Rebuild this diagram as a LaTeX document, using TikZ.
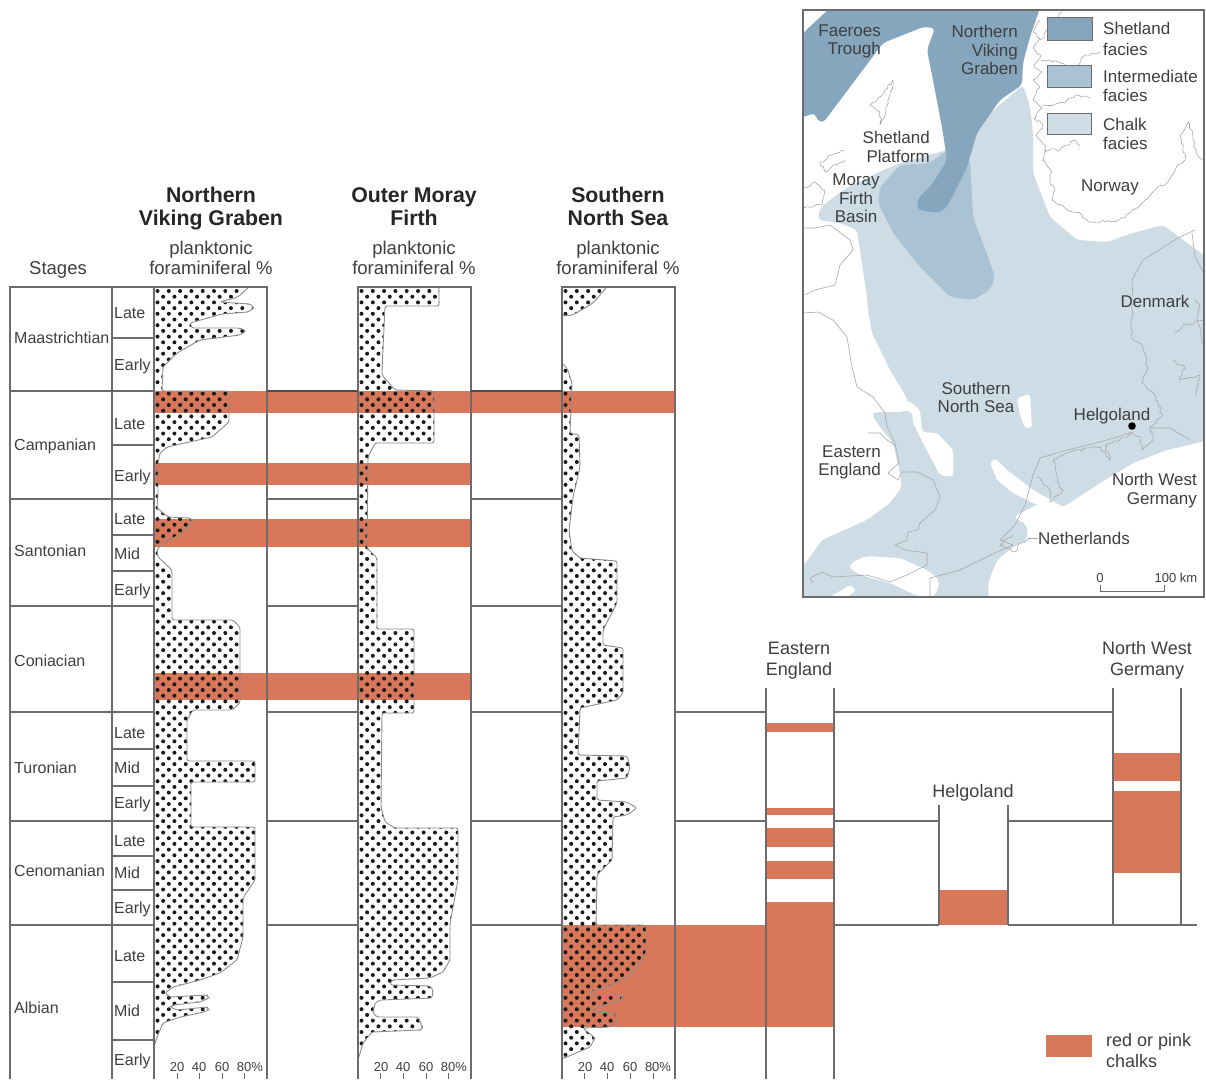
\documentclass[tikz,border=0pt]{standalone}
\usepackage{fontspec}
\usetikzlibrary{decorations.pathmorphing}
\setmainfont{Liberation Sans}
\definecolor{ink}{HTML}{3F3F3F}
\definecolor{rule}{HTML}{6C6C6C}
\definecolor{redchalk}{HTML}{D9775B}
\definecolor{chalkf}{HTML}{CEDCE6}
\definecolor{interf}{HTML}{A9C2D4}
\definecolor{shetf}{HTML}{86A6BE}
\definecolor{coast}{HTML}{A8A8A8}
\newcommand{\fs}[1]{\fontsize{#1}{#1}\selectfont}
\tikzset{
 lab/.style={inner sep=0pt,text=ink,font=\fs{16}\strut,anchor=base west},
 stagelab/.style={lab,font=\fs{16}},
 subl/.style={lab,font=\fs{16}},
 axl/.style={inner sep=0pt,text=ink,font=\fs{13},anchor=base},
 title/.style={inner sep=0pt,text=black!85,font=\fs{21.3}\bfseries,align=center,anchor=base},
 plk/.style={inner sep=0pt,text=ink,font=\fs{18.5},align=center,anchor=base},
 maplab/.style={inner sep=0pt,text=ink,font=\fs{17},align=center,anchor=base},
 mapr/.style={maplab,align=right,anchor=base east},
 sectlab/.style={maplab,font=\fs{18}},
 rl/.style={draw=rule,line width=1.4pt},
 band/.style={fill=redchalk},
 curve/.style={draw=black!45,line width=.9pt,rounded corners=2.2pt},
 cst/.style={draw=coast,line width=.6pt,line join=round},
 jag/.style={cst,decorate,decoration={random steps,segment length=3.5pt,amplitude=1.6pt}},
 leg/.style={draw=rule,line width=.9pt},
}
\def\polyA{(154,287) -- (249,287) -- (238,297) -- (220,302) -- (250,304) -- (254,308) -- (248,312) -- (222,314) -- (190,323) -- (192,328) -- (240,328) -- (246,331) -- (240,335) -- (200,340) -- (177,353) -- (163,367) -- (162,391) -- (229,391) -- (229,422) -- (212,437) -- (167,447) -- (160,453) -- (158,463) -- (158,495) -- (157,508) -- (168,517) -- (190,518) -- (193,522) -- (183,533) -- (163,543) -- (157,550) -- (158,557) -- (172,570) -- (172,620) -- (233,620) -- (240,627) -- (240,703) -- (232,710) -- (193,710) -- (187,720) -- (187,761) -- (255,761) -- (255,782) -- (191,782) -- (191,827) -- (255,827) -- (255,880) -- (243,898) -- (243,937) -- (237,960) -- (220,973) -- (200,980) -- (173,987) -- (165,993) -- (170,997) -- (207,995) -- (209,998) -- (200,1002) -- (173,1005) -- (170,1007) -- (177,1010) -- (207,1007) -- (209,1010) -- (200,1013) -- (180,1017) -- (163,1023) -- (157,1037) -- (154,1047) -- cycle}
\def\polyB{(358,287) -- (439,287) -- (439,306) -- (385,306) -- (382,370) -- (382,375) -- (395,390) -- (434,391) -- (434,443) -- (375,443) -- (368,457) -- (367,548) -- (377,558) -- (377,629) -- (414,629) -- (414,713) -- (382,713) -- (381,807) -- (385,822) -- (395,828) -- (458,828) -- (458,880) -- (450,923) -- (450,960) -- (443,972) -- (430,978) -- (392,980) -- (390,985) -- (430,986) -- (433,990) -- (432,998) -- (380,1000) -- (375,1003) -- (373,1013) -- (377,1017) -- (418,1017) -- (423,1028) -- (420,1030) -- (372,1032) -- (363,1043) -- (358,1060) -- cycle}
\def\polyC{(562,363) -- (567,368) -- (572,383) -- (570,433) -- (579,435) -- (580,467) -- (573,497) -- (569,530) -- (572,551) -- (580,558) -- (617,561) -- (617,603) -- (603,630) -- (603,645) -- (623,648) -- (623,693) -- (617,700) -- (580,708) -- (578,755) -- (627,756) -- (630,767) -- (627,778) -- (597,781) -- (597,800) -- (627,802) -- (637,808) -- (627,815) -- (613,817) -- (612,860) -- (597,875) -- (596,925) -- (646,925) -- (646,953) -- (633,973) -- (607,987) -- (590,992) -- (593,995) -- (622,996) -- (622,1000) -- (597,1007) -- (593,1012) -- (615,1013) -- (617,1023) -- (610,1027) -- (583,1028) -- (595,1038) -- (590,1047) -- (562,1059) -- cycle}
\def\polyD{(562,287) -- (607,287) -- (593,303) -- (573,315) -- (562,316) -- cycle}
\newcommand{\dotfield}[1]{%
 \foreach \rr in {0,...,68}{%
  \pgfmathsetmacro{\yy}{291+11.4*\rr}%
  \foreach \cc in {0,...,9}{%
   \fill[black!90] ({#1+11.3*\cc},\yy) circle (2);
   \fill[black!90] ({#1+5.65+11.3*\cc},{\yy+5.7}) circle (2);
  }%
 }%
}
\begin{document}
\begin{tikzpicture}[x=1pt,y=-1pt]
\useasboundingbox (0,0) rectangle (1206,1079);
\fill[white] (0,0) rectangle (1206,1079);

% ---------- map ----------
\begin{scope}
\clip (803,10) rectangle (1204,597);
\fill[chalkf,rounded corners=4pt] (1023,85) -- (1030,107) -- (1033,133) -- (1033,173) -- (1050,217) -- (1077,240) -- (1107,242) -- (1133,233) -- (1163,225) -- (1210,260) -- (1210,440) -- (1167,450) -- (1133,463) -- (1100,483) -- (1063,507) -- (1040,503) -- (1013,517) -- (1027,525) -- (1027,540) -- (1013,547) -- (997,560) -- (988,583) -- (989,600) -- (800,600) -- (800,570) -- (810,557) -- (822,540) -- (867,520) -- (890,503) -- (902,487) -- (900,473) -- (893,443) -- (880,427) -- (872,415) -- (875,412) -- (905,412) -- (908,400) -- (890,370) -- (872,333) -- (868,310) -- (867,297) -- (857,230) -- (840,223) -- (818,220) -- (820,208) -- (843,190) -- (877,173) -- (900,163) -- (947,150) -- cycle;
\fill[white,rounded corners=3pt] (908,400) -- (920,410) -- (922,432) -- (937,433) -- (953,450) -- (953,477) -- (940,475) -- (923,443) -- (913,423) -- (912,412) -- (900,410) -- cycle;
\fill[white,rounded corners=3pt] (1017,398) -- (1030,394) -- (1032,428) -- (1025,428) -- (1020,415) -- cycle;
\fill[white,rounded corners=3pt] (990,463) -- (995,458) -- (1007,470) -- (1033,490) -- (1063,507) -- (1037,505) -- (1013,493) -- (997,480) -- cycle;
\fill[white,rounded corners=5pt] (850,563) -- (867,556) -- (900,558) -- (927,570) -- (940,580) -- (935,597) -- (920,597) -- (890,583) -- (867,577) -- (850,570) -- cycle;
\fill[white,rounded corners=2pt] (830,597) -- (850,585) -- (856,590) -- (846,598) -- cycle;
\fill[interf,rounded corners=5pt] (900,165) -- (880,187) -- (878,203) -- (893,233) -- (920,267) -- (950,297) -- (973,300) -- (990,290) -- (995,277) -- (988,257) -- (973,217) -- (970,160) -- (947,150) -- (930,163) -- cycle;
\fill[shetf,rounded corners=4pt] (803,33) -- (830,8) -- (1040,8) -- (1030,37) -- (1023,63) -- (1022,85) -- (1000,100) -- (977,133) -- (967,167) -- (947,207) -- (938,213) -- (918,210) -- (917,200) -- (933,183) -- (947,160) -- (943,133) -- (933,80) -- (927,50) -- (935,28) -- (923,27) -- (883,43) -- (850,87) -- (823,123) -- (817,120) -- (815,113) -- (800,118) -- cycle;
% coastlines
\draw[jag] (1040,20) -- (1033,32) -- (1040,38) -- (1033,48) -- (1041,55) -- (1034,65) -- (1042,72) -- (1033,80) -- (1040,87) -- (1033,100) -- (1042,108) -- (1034,118) -- (1043,125) -- (1036,135) -- (1045,148) -- (1042,160) -- (1052,172) -- (1050,180) -- (1055,190) -- (1052,200) -- (1065,208) -- (1082,215) -- (1088,222) -- (1105,222) -- (1125,218) -- (1140,205) -- (1155,190) -- (1168,182) -- (1175,170) -- (1185,160) -- (1180,135) -- (1188,122) -- (1193,140) -- (1197,155) -- (1206,160);
\draw[jag] (1041,60) -- (1060,63) -- (1075,70) -- (1085,55) -- (1100,52);
\draw[jag] (1042,105) -- (1065,103) -- (1075,95) -- (1090,98);
\draw[jag] (1044,150) -- (1060,150) -- (1075,140) -- (1080,146);
\draw[jag] (1040,40) -- (1050,28) -- (1062,12);
\draw[jag] (893,80) -- (885,90) -- (878,98) -- (870,105) -- (880,112) -- (880,125) -- (886,110) -- (890,95) -- (893,80);
\draw[jag] (845,150) -- (832,155) -- (820,162) -- (825,172) -- (833,165) -- (845,160);
\draw[jag] (803,188) -- (815,182) -- (825,190) -- (822,205) -- (803,208);
\draw[cst] (803,228) -- (815,228) -- (830,225) -- (850,240) -- (853,250) -- (840,265) -- (835,285) -- (815,290) -- (805,295);
\draw[cst] (803,313) -- (818,312) -- (833,320) -- (847,337) -- (852,367) -- (857,387) -- (873,397) -- (885,413) -- (887,427) -- (895,443) -- (899,463) -- (888,473) -- (898,480) -- (902,472) -- (917,472) -- (933,480) -- (940,497) -- (935,510) -- (920,523) -- (918,530) -- (908,532) -- (907,540) -- (895,545) -- (905,550) -- (927,553) -- (927,565) -- (907,575) -- (890,582) -- (867,575) -- (833,577) -- (822,572) -- (810,578) -- (813,583);
\draw[cst] (868,433) -- (880,433) -- (887,440) -- (895,445);
\draw[cst] (930,597) -- (930,578) -- (960,570) -- (997,552) -- (1013,545) -- (1000,540) -- (1010,530) -- (1015,525) -- (1025,505) -- (1033,475) -- (1040,458) -- (1067,450) -- (1100,442) -- (1133,432);
\draw[jag] (1013,535) -- (1000,545) -- (1015,552) -- (1018,545) -- (1030,538);
\draw[jag] (1037,477) -- (1050,490) -- (1050,502) -- (1063,490) -- (1057,482) -- (1053,460) -- (1070,452) -- (1100,447) -- (1110,460) -- (1105,445) -- (1133,434) -- (1140,437) -- (1142,450) -- (1153,440) -- (1150,427) -- (1163,415) -- (1153,393) -- (1142,383) -- (1148,367) -- (1143,347) -- (1133,340) -- (1132,320) -- (1133,300);
\draw[cst] (1133,300) -- (1132,280) -- (1143,260) -- (1178,238) -- (1195,230);
\draw[cst] (1192,233) -- (1195,257) -- (1206,277);
\draw[cst] (1150,428) -- (1170,428) -- (1190,440);
\draw[jag] (1175,333) -- (1185,325) -- (1206,320);
\draw[jag] (1173,360) -- (1185,368) -- (1180,380) -- (1200,375) -- (1195,395);
\draw[jag] (1195,300) -- (1200,305) -- (1197,320) -- (1204,345);
\end{scope}
\draw[rule,line width=1.8pt] (803,10) rectangle (1204,597);
% map legend
\draw[leg,fill=shetf] (1047,17) rectangle (1092,40);
\draw[leg,fill=interf] (1047,65) rectangle (1091,87);
\draw[leg,fill=chalkf] (1047,113) rectangle (1091,134);
\node[lab,font=\fs{17}] (lg1) at (1103,34) {Shetland};
\node[lab,font=\fs{17}] (lg1b) at (1103,55) {facies};
\node[lab,font=\fs{17}] (lg2) at (1103,82) {Intermediate};
\node[lab,font=\fs{17}] (lg2b) at (1103,101) {facies};
\node[lab,font=\fs{17}] (lg3) at (1103,130) {Chalk};
\node[lab,font=\fs{17}] (lg3b) at (1103,149) {facies};
% map labels
\node[mapr] (m1) at (881,36) {Faeroes};
\node[mapr] (m1b) at (881,54) {Trough};
\node[mapr] (m2) at (1018,37) {Northern};
\node[mapr] (m2b) at (1018,56) {Viking};
\node[mapr] (m2c) at (1018,74) {Graben};
\node[mapr] (m3) at (930,143) {Shetland};
\node[mapr] (m3b) at (930,162) {Platform};
\node[maplab] (m4) at (856,185) {Moray};
\node[maplab] (m4b) at (856,204) {Firth};
\node[maplab] (m4c) at (856,222) {Basin};
\node[maplab] (m5) at (1110,191) {Norway};
\node[maplab] (m6) at (1155,307) {Denmark};
\node[maplab] (m7) at (976,394) {Southern};
\node[maplab] (m7b) at (976,412) {North Sea};
\node[maplab] (m8) at (1112,420) {Helgoland};
\fill[black] (1132,426) circle (3.8);
\node[mapr] (m9) at (881,457) {Eastern};
\node[mapr] (m9b) at (881,475) {England};
\node[mapr] (m10) at (1197,485) {North West};
\node[mapr] (m10b) at (1197,504) {Germany};
\node[maplab] (m11) at (1084,544) {Netherlands};
\coordinate (nl) at (1028,538);
\draw[coast,line width=.8pt] (nl) -- (m11.west |- nl);
% scale
\node[axl] (s0) at (1100,582) {0};
\node[axl] (s1) at (1176,582) {100 km};
\draw[rule,line width=1pt] (1100,585) -- (1100,591) -- (1164,591) -- (1164,585);

% ---------- bands ----------
\fill[band] (154,391) rectangle (675,413);
\fill[band] (154,463) rectangle (471,485);
\fill[band] (154,519) rectangle (471,547);
\fill[band] (154,673) rectangle (471,700);
\fill[band] (562,925) rectangle (834,1027);
\fill[band] (766,723) rectangle (834,732);
\fill[band] (766,808) rectangle (834,815);
\fill[band] (766,828) rectangle (834,847);
\fill[band] (766,861) rectangle (834,879);
\fill[band] (766,902) rectangle (834,925);
\fill[band] (939,890) rectangle (1008,925);
\fill[band] (1113,753) rectangle (1181,781);
\fill[band] (1113,791) rectangle (1181,873);
\fill[band] (1046,1035) rectangle (1092,1057);

% ---------- curves with dots ----------
\begin{scope}\clip \polyA; \dotfield{157.5} \end{scope}
\begin{scope}\clip \polyB; \dotfield{361.5} \end{scope}
\begin{scope}\clip \polyC; \dotfield{565.5} \end{scope}
\begin{scope}\clip \polyD; \dotfield{565.5} \end{scope}
\draw[curve] \polyA;
\draw[curve] \polyB;
\draw[curve] \polyC;
\draw[curve] \polyD;

% ---------- table rules ----------
\draw[rl] (10,1079) -- (10,287) -- (267,287) -- (267,1079);
\draw[rl] (112,287) -- (112,1079);
\draw[rl] (154,287) -- (154,1079);
\draw[rl] (358,1079) -- (358,287) -- (471,287) -- (471,1079);
\draw[rl] (562,1079) -- (562,287) -- (675,287) -- (675,1079);
\foreach \yy in {338,445,535,571,749,786,856,890,982,1040}{\draw[rl] (112,\yy) -- (154,\yy);}
\foreach \yy in {391,499,606,712,821,925}{\draw[rl] (10,\yy) -- (154,\yy);}
\foreach \yy in {391,499,606,712,821,925}{\draw[rl] (267,\yy) -- (358,\yy); \draw[rl] (471,\yy) -- (562,\yy);}
\draw[rl,draw=black!70] (267,391) -- (358,391) (471,391) -- (562,391);
\draw[rl] (675,712) -- (766,712) (834,712) -- (1113,712);
\draw[rl] (675,821) -- (766,821) (834,821) -- (939,821) (1008,821) -- (1113,821);
\draw[rl] (834,925) -- (939,925) (1008,925) -- (1197,925);
\draw[rl] (766,688) -- (766,1079) (834,688) -- (834,1079);
\draw[rl] (939,805) -- (939,925) (1008,805) -- (1008,925);
\draw[rl] (1113,688) -- (1113,925) (1181,688) -- (1181,925);

% axis ticks
\foreach \xx in {177,199,222,244,380,403,426,448,584,607,630,653}{\draw[rule,line width=1pt] (\xx,1073) -- (\xx,1079);}
\foreach \xx/\tt [count=\i] in {177/20,199/40,222/60,250/80\%,381/20,403/40,426/60,454/80\%,585/20,607/40,630/60,658/80\%}{\node[axl] (ax\i) at (\xx,1071) {\tt};}

% ---------- headings ----------
\node[lab,font=\fs{18.5}] (stages) at (29,274.5) {Stages};
\node[title] (t1) at (211,202) {Northern};
\node[title] (t1b) at (211,225) {Viking Graben};
\node[title] (t2) at (414,202) {Outer Moray};
\node[title] (t2b) at (414,225) {Firth};
\node[title] (t3) at (618,202) {Southern};
\node[title] (t3b) at (618,225) {North Sea};
\foreach \xx/\nn in {211/a,414/b,618/c}{
 \node[plk] (p\nn) at (\xx,254) {planktonic};
 \node[plk] (q\nn) at (\xx,274) {foraminiferal \%};
}
% stages
\foreach \yy/\tt [count=\i] in {338/Maastrichtian,445/Campanian,551/Santonian,661/Coniacian,768/Turonian,871/Cenomanian,1008/Albian}{\node[stagelab] (st\i) at (14,\yy+5.5) {\tt};}
\foreach \yy/\tt [count=\i] in {313/Late,365/Early,424/Late,476/Early,519/Late,554/Mid,590/Early,733/Late,768/Mid,803/Early,841/Late,873/Mid,908/Early,956/Late,1011/Mid,1060/Early}{\node[subl] (sb\i) at (114,\yy+5.5) {\tt};}
% right sections
\node[sectlab] (e1) at (799,654) {Eastern};
\node[sectlab] (e1b) at (799,675) {England};
\node[sectlab] (e2) at (973,797) {Helgoland};
\node[sectlab] (e3) at (1147,654) {North West};
\node[sectlab] (e3b) at (1147,675) {Germany};
\node[lab,font=\fs{18}] (rp) at (1106,1046) {red or pink};
\node[lab,font=\fs{18}] (rpb) at (1106,1067) {chalks};
\end{tikzpicture}
\end{document}
